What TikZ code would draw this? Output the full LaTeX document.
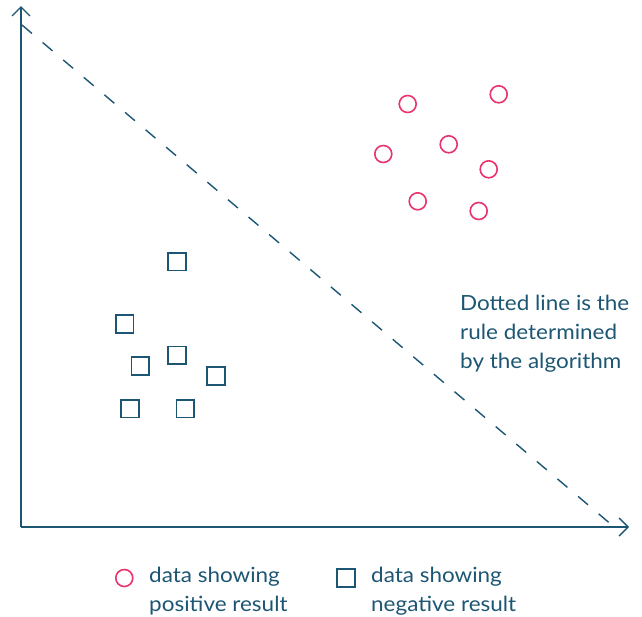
\documentclass[tikz,border=0pt]{standalone}
\usepackage{fontspec}
\setmainfont{Lato}[FakeStretch=1.075]
\usetikzlibrary{arrows.meta}
\definecolor{ruleblue}{HTML}{1D5673}
\definecolor{posred}{HTML}{E8336B}
\begin{document}
\begin{tikzpicture}[x=1pt,y=-1pt]
	\tikzset{posdot/.style = {shape=circle,draw=posred,line width=1.6pt,minimum size=17pt,inner sep=0pt}}
	\tikzset{negbox/.style = {shape=rectangle,draw=ruleblue,line width=1.6pt,minimum size=17.5pt,inner sep=0pt}}
	\tikzset{axis/.style = {->,>={Straight Barb[length=9pt,width=18pt,line width=1.4pt]},draw=ruleblue,line width=1.4pt}}
	\tikzset{notetext/.style = {text=ruleblue,font=\fontsize{20.9}{29.2}\selectfont,align=left,inner sep=0pt}}
	\useasboundingbox (0,0) rectangle (642,616);
	% axes
	\coordinate (o) at (21,527);
	\coordinate (ytop) at (21,6);
	\coordinate (xend) at (629,527);
	\draw[axis] (o) -- (ytop);
	\draw[axis] (o) -- (xend);
	% rule line
	\coordinate (r1) at (22,25);
	\coordinate (r2) at (613,526);
	\draw[ruleblue,line width=1.4pt,dash pattern=on 13pt off 14pt] (r1) -- (r2);
	% positive data
	\node[posdot] (p1) at (407.7,104) {};
	\node[posdot] (p2) at (498.7,94.3) {};
	\node[posdot] (p3) at (448.7,144.3) {};
	\node[posdot] (p4) at (383.3,154) {};
	\node[posdot] (p5) at (488.7,169.3) {};
	\node[posdot] (p6) at (417.7,201.3) {};
	\node[posdot] (p7) at (478.7,211) {};
	% negative data
	\node[negbox] (n1) at (177,261.7) {};
	\node[negbox] (n2) at (124.7,324) {};
	\node[negbox] (n3) at (140.3,366) {};
	\node[negbox] (n4) at (177,355.3) {};
	\node[negbox] (n5) at (216,376) {};
	\node[negbox] (n6) at (130,408.7) {};
	\node[negbox] (n7) at (185.3,408.7) {};
	% note (base anchor sits on the last line)
	\node[notetext,anchor=base west] (note) at (460,368.4) {Dotted line is the\\rule determined\\by the algorithm};
	% legend
	\node[posdot] (lpos) at (124.3,578) {};
	\node[notetext,anchor=base west] (lpostext) at (149,611.2) {data showing\\positive result};
	\node[negbox] (lneg) at (346,578) {};
	\node[notetext,anchor=base west] (lnegtext) at (371,611.2) {data showing\\negative result};
\end{tikzpicture}
\end{document}
